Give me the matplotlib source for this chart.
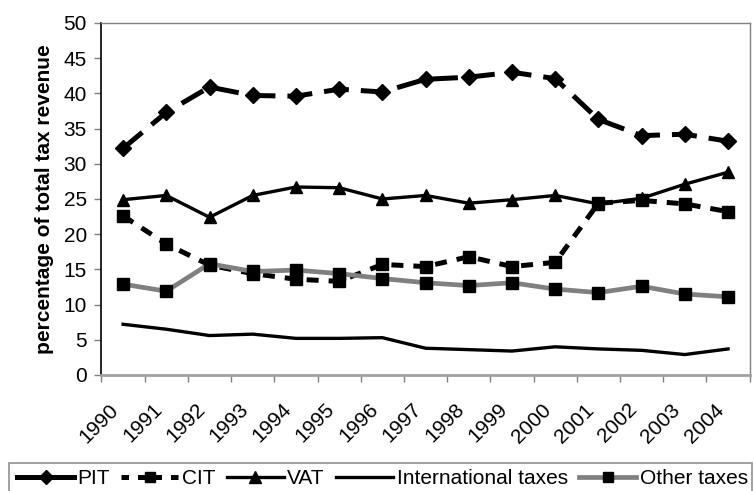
import matplotlib
matplotlib.use("Agg")
import matplotlib.pyplot as plt
import matplotlib.transforms as mtransforms
from matplotlib.lines import Line2D
from matplotlib.patches import Rectangle
import numpy as np

plt.rcParams['font.family'] = ['Liberation Sans', 'DejaVu Sans']

years = ["1990", "1991", "1992", "1993", "1994", "1995", "1996", "1997",
         "1998", "1999", "2000", "2001", "2002", "2003", "2004"]
pit = [32.2, 37.3, 40.9, 39.7, 39.6, 40.6, 40.2, 42.0, 42.3, 43.0, 42.1, 36.3, 34.0, 34.2, 33.2]
cit = [22.6, 18.6, 15.6, 14.4, 13.6, 13.3, 15.7, 15.4, 16.8, 15.4, 16.0, 24.4, 24.8, 24.3, 23.2]
vat = [24.9, 25.5, 22.4, 25.5, 26.7, 26.6, 25.0, 25.5, 24.4, 24.9, 25.5, 24.3, 25.1, 27.1, 28.8]
intl = [7.2, 6.5, 5.6, 5.8, 5.2, 5.2, 5.3, 3.8, 3.6, 3.4, 4.0, 3.7, 3.5, 2.9, 3.7]
other = [12.9, 11.9, 15.8, 14.7, 14.9, 14.4, 13.7, 13.1, 12.7, 13.1, 12.2, 11.7, 12.6, 11.5, 11.1]

fig = plt.figure(figsize=(7.54, 4.91), dpi=100)
ax = fig.add_axes([0.1346, 0.2363, 0.8596, 0.7169])

x = np.arange(len(years))
ax.plot(x, pit, color='black', lw=3.6, dashes=(5, 2.4), marker='D', ms=8.5, zorder=3)
ax.plot(x, cit, color='black', lw=3.6, dashes=(2.4, 2.0), marker='s', ms=8, zorder=3)
ax.plot(x, vat, color='black', lw=2.4, marker='^', ms=9, zorder=4)
ax.plot(x, intl, color='black', lw=2.4, zorder=4)
ax.plot(x, other, color='#808080', lw=3.4, marker='s', ms=8, mfc='black', mec='black', zorder=5)

ax.set_xlim(-0.5, len(years) - 0.5)
ax.set_ylim(0, 50)
ax.set_yticks(np.arange(0, 51, 5))
ax.set_xticks(x)
ax.set_xticklabels(years, rotation=45, ha='right', va='top', rotation_mode='anchor', fontsize=15)
ax.set_xticks(np.arange(-0.5, len(years)), minor=True)
ax.tick_params(axis='x', which='major', length=0, pad=18)
ax.tick_params(axis='x', which='minor', length=5, width=1, color='#808080', direction='out')
ax.tick_params(axis='y', length=5, width=1, color='#808080', labelsize=15, pad=5.5)

# nudge the slanted year labels so they sit under their categories
shift = mtransforms.ScaledTranslation(-14 / 100, 0, fig.dpi_scale_trans)
for lab in ax.get_xticklabels():
    lab.set_transform(lab.get_transform() + shift)

for side in ['top', 'right']:
    ax.spines[side].set_color('#808080')
    ax.spines[side].set_linewidth(1)
ax.spines['left'].set_color('black')
ax.spines['left'].set_linewidth(1.2)
ax.spines['bottom'].set_color('#a0a0a0')
ax.spines['bottom'].set_linewidth(2)

ax.set_ylabel('percentage of total tax revenue', fontsize=15, fontweight='bold', labelpad=7)

# legend along the bottom edge
handles = [
    Line2D([], [], color='black', lw=3.6, marker='D', ms=7),
    Line2D([], [], color='black', lw=3.6, dashes=(1.5, 1.8), marker='s', ms=7),
    Line2D([], [], color='black', lw=2.4, marker='^', ms=8),
    Line2D([], [], color='black', lw=2.4),
    Line2D([], [], color='#808080', lw=3.4, marker='s', ms=7, mfc='black', mec='black'),
]
labels = ["PIT", "CIT", "VAT", "International taxes", "Other taxes"]
leg = fig.legend(handles, labels, loc='lower left', bbox_to_anchor=(0.0225, 0.006),
                 ncol=5, frameon=False, fontsize=15, handlelength=2.75,
                 handletextpad=0.15, columnspacing=0.55, borderaxespad=0,
                 borderpad=0)
fig.patches.append(Rectangle((0.012, -0.02), 0.985, 0.077, transform=fig.transFigure,
                             fill=False, edgecolor='#909090', lw=1.2))

fig.savefig('out.png', dpi=100)
